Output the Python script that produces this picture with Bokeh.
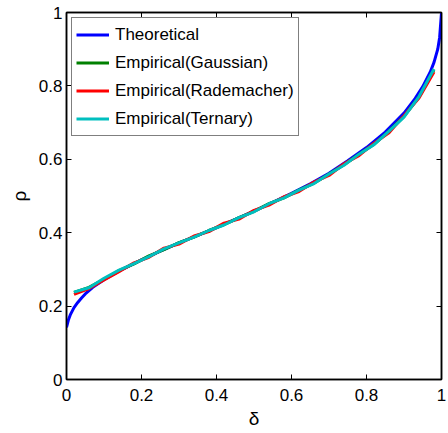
from bokeh.plotting import figure
from bokeh.models import Range1d, FixedTicker, LinearAxis, Legend, LegendItem
from bokeh.embed import file_html
from bokeh.resources import INLINE

# ---- data ----
delta_theory = [0.0, 0.005, 0.01, 0.02, 0.03, 0.04, 0.05, 0.07, 0.1, 0.15, 0.2, 0.25,
                0.3, 0.35, 0.4, 0.45, 0.5, 0.55, 0.6, 0.65, 0.7, 0.75, 0.8, 0.85,
                0.9, 0.93, 0.95, 0.97, 0.98, 0.99, 0.995, 1.0]
rho_theory = [0.142, 0.162, 0.176, 0.196, 0.210, 0.222, 0.233, 0.251, 0.272, 0.301,
              0.326, 0.350, 0.372, 0.393, 0.414, 0.436, 0.459, 0.483, 0.507, 0.533,
              0.562, 0.596, 0.632, 0.674, 0.726, 0.766, 0.798, 0.838, 0.864, 0.900,
              0.932, 1.0]

delta_emp = [0.02, 0.06, 0.10, 0.14, 0.18, 0.22, 0.26, 0.30, 0.34, 0.38, 0.42, 0.46,
             0.50, 0.54, 0.58, 0.62, 0.66, 0.70, 0.74, 0.78, 0.82, 0.86, 0.90, 0.94, 0.98]
rho_gaussian = [0.237, 0.251, 0.273, 0.297, 0.315, 0.337, 0.354, 0.373, 0.388, 0.406,
                0.422, 0.441, 0.458, 0.479, 0.495, 0.516, 0.535, 0.560, 0.585, 0.614,
                0.641, 0.677, 0.717, 0.770, 0.844]
rho_rademacher = [0.232, 0.248, 0.271, 0.294, 0.318, 0.333, 0.358, 0.369, 0.391, 0.403,
                  0.426, 0.437, 0.461, 0.475, 0.498, 0.512, 0.538, 0.556, 0.588, 0.610,
                  0.644, 0.672, 0.719, 0.767, 0.838]
rho_ternary = [0.238, 0.250, 0.276, 0.298, 0.316, 0.335, 0.356, 0.372, 0.388, 0.406,
               0.421, 0.441, 0.457, 0.479, 0.495, 0.516, 0.534, 0.560, 0.584, 0.614,
               0.640, 0.677, 0.715, 0.771, 0.846]

tick_values = [0.0, 0.2, 0.4, 0.6, 0.8, 1.0]
tick_labels = ["0", "0.2", "0.4", "0.6", "0.8", "1"]

series_names = ["Theoretical", "Empirical(Gaussian)", "Empirical(Rademacher)", "Empirical(Ternary)"]
series_colors = ["#0000FF", "#008000", "#FF0000", "#00BFBF"]

FONT = "Liberation Sans"

p = figure(width=448, height=433, output_backend="svg", toolbar_location=None,
           x_range=Range1d(0, 1), y_range=Range1d(0, 1),
           min_border_left=66, min_border_right=7, min_border_top=12, min_border_bottom=54)
p.xgrid.visible = False
p.ygrid.visible = False
p.outline_line_color = "black"
p.outline_line_width = 1.5
p.background_fill_color = "white"
p.border_fill_color = "white"

def style_axis(ax, show_labels=True):
    ax.ticker = FixedTicker(ticks=tick_values)
    ax.axis_line_color = "black"
    ax.axis_line_width = 1.5
    ax.major_tick_in = 5
    ax.major_tick_out = 0
    ax.major_tick_line_color = "black"
    ax.major_tick_line_width = 1
    ax.minor_tick_line_color = None
    ax.major_label_text_font = FONT
    ax.major_label_text_font_size = "17px"
    ax.major_label_text_color = "black"
    ax.axis_label_text_font = FONT
    ax.axis_label_text_font_style = "normal"
    ax.axis_label_text_font_size = "19px"
    ax.axis_label_text_color = "black"
    if show_labels:
        ax.major_label_overrides = {v: s for v, s in zip(tick_values, tick_labels)}
    else:
        ax.major_label_overrides = {v: "" for v in tick_values}
        ax.major_label_standoff = 0

style_axis(p.xaxis[0])
style_axis(p.yaxis[0])
p.xaxis[0].axis_label = "δ"
p.yaxis[0].axis_label = "ρ"
p.xaxis[0].major_label_standoff = 9
p.xaxis[0].axis_label_standoff = 4
p.yaxis[0].major_label_standoff = 4
p.yaxis[0].axis_label_standoff = 6

top_ax = LinearAxis()
right_ax = LinearAxis()
style_axis(top_ax, show_labels=False)
style_axis(right_ax, show_labels=False)
p.add_layout(top_ax, "above")
p.add_layout(right_ax, "right")

r0 = p.line(delta_theory, rho_theory, line_color=series_colors[0], line_width=3)
r1 = p.line(delta_emp, rho_gaussian, line_color=series_colors[1], line_width=3)
r2 = p.line(delta_emp, rho_rademacher, line_color=series_colors[2], line_width=3)
r3 = p.line(delta_emp, rho_ternary, line_color=series_colors[3], line_width=3)

legend = Legend(items=[LegendItem(label=n, renderers=[r]) for n, r in zip(series_names, [r0, r1, r2, r3])],
                location="top_left")
legend.label_text_font = FONT
legend.label_text_font_size = "17px"
legend.label_text_color = "black"
legend.glyph_width = 33
legend.glyph_height = 25
legend.label_height = 25
legend.label_standoff = 6
legend.spacing = 3
legend.padding = 4
legend.margin = 5
legend.border_line_color = "black"
legend.border_line_width = 1
legend.background_fill_alpha = 1
p.add_layout(legend)

open("out.html", "w").write(file_html(p, INLINE))
